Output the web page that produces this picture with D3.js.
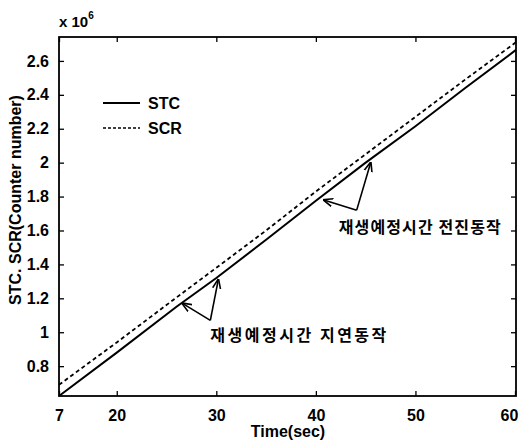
<!DOCTYPE html>
<html>
<head>
<meta charset="utf-8">
<script src="https://cdn.jsdelivr.net/npm/d3@7"></script>
<style>
  body { margin: 0; background: #fff; }
  text { font-family: "Liberation Sans", Arial, sans-serif; font-weight: bold; fill: #000; }
  .kr { font-family: "Noto Sans CJK KR", sans-serif; font-weight: bold; }
</style>
</head>
<body>
<div id="chart"></div>
<script>
// time (sec) and counter numbers (x 10^6)
var time = [14.2, 20, 26, 30, 35, 40, 45, 50, 55, 60.1];
var stc  = [0.624, 0.88, 1.15, 1.32, 1.545, 1.775, 2.0, 2.215, 2.44, 2.665];
var scr  = [0.69, 0.94, 1.205, 1.38, 1.60, 1.83, 2.05, 2.27, 2.49, 2.71];

var xTicks = [14.2, 20, 30, 40, 50, 60];
var xTickLabels = ["7", "20", "30", "40", "50", "60"];
var yTicks = [0.8, 1, 1.2, 1.4, 1.6, 1.8, 2, 2.2, 2.4, 2.6];
var yTickLabels = ["0.8", "1", "1.2", "1.4", "1.6", "1.8", "2", "2.2", "2.4", "2.6"];

var seriesNames = ["STC", "SCR"];

// annotations: text anchor, arrow vertex, two arrow tips (data coords)
var notes = [
    {text: "재생예정시간 지연동작", len: 176, tx: 29.4, ty: 0.98, vx: 29.4, vy: 1.07, tips: [[26.6, 1.17], [30.2, 1.31]]},
    {text: "재생예정시간 전진동작", len: 162, tx: 42.3, ty: 1.62, vx: 44.1, vy: 1.72, tips: [[40.8, 1.78], [45.5, 2.0]]}
];

var W = 522, H = 441;
var margin = {top: 37, right: 6, bottom: 45, left: 59};
var w = W - margin.left - margin.right,
    h = H - margin.top - margin.bottom;

var svg = d3.select("#chart").append("svg")
    .attr("width", W)
    .attr("height", H);

svg.append("defs").append("marker")
    .attr("id", "arrow")
    .attr("viewBox", "0 0 10 10")
    .attr("refX", 9).attr("refY", 5)
    .attr("markerWidth", 10).attr("markerHeight", 10)
    .attr("markerUnits", "userSpaceOnUse")
    .attr("orient", "auto")
    .append("path")
    .attr("d", "M0,1 L10,5 L0,9")
    .attr("fill", "none")
    .attr("stroke", "#000")
    .attr("stroke-width", 1.6);

var g = svg.append("g")
    .attr("transform", "translate(" + margin.left + "," + margin.top + ")");

var x = d3.scaleLinear().domain([14.2, 60.1]).range([0, w]);
var y = d3.scaleLinear().domain([0.624, 2.741]).range([h, 0]);

// axes with inward ticks on all four sides
function styleAxis(sel) {
    sel.select(".domain").remove();
    sel.selectAll("line").attr("stroke", "#000").attr("stroke-width", 1.3);
    sel.selectAll("text").style("font-size", "16px");
}
g.append("g")
    .attr("transform", "translate(0," + h + ")")
    .call(d3.axisBottom(x).tickValues(xTicks).tickFormat((d, i) => xTickLabels[i])
          .tickSizeInner(-5).tickSizeOuter(0).tickPadding(14))
    .call(styleAxis)
    .call(a => a.selectAll("text").filter(d => d == 60).attr("dx", -6));
g.append("g")
    .call(d3.axisTop(x).tickValues(xTicks).tickFormat("").tickSizeInner(-5).tickSizeOuter(0))
    .call(styleAxis);
g.append("g")
    .call(d3.axisLeft(y).tickValues(yTicks).tickFormat((d, i) => yTickLabels[i])
          .tickSizeInner(-5).tickSizeOuter(0).tickPadding(10))
    .call(styleAxis);
g.append("g")
    .attr("transform", "translate(" + w + ",0)")
    .call(d3.axisRight(y).tickValues(yTicks).tickFormat("").tickSizeInner(-5).tickSizeOuter(0))
    .call(styleAxis);

g.append("rect")
    .attr("width", w).attr("height", h)
    .attr("fill", "none")
    .attr("stroke", "#000")
    .attr("stroke-width", 1.8);

var line = d3.line()
    .x((d, i) => x(time[i]))
    .y(d => y(d));

g.append("path")
    .datum(stc)
    .attr("d", line)
    .attr("fill", "none")
    .attr("stroke", "#000")
    .attr("stroke-width", 2);

g.append("path")
    .datum(scr)
    .attr("d", line)
    .attr("fill", "none")
    .attr("stroke", "#000")
    .attr("stroke-width", 1.8)
    .attr("stroke-dasharray", "4,3");

// legend
var legend = g.append("g").attr("transform", "translate(44,66)");
seriesNames.forEach((name, i) => {
    legend.append("line")
        .attr("x1", 0).attr("x2", 37)
        .attr("y1", i * 25).attr("y2", i * 25)
        .attr("stroke", "#000")
        .attr("stroke-width", i == 0 ? 2 : 1.5)
        .attr("stroke-dasharray", i == 0 ? null : "3,2");
    legend.append("text")
        .attr("x", 45).attr("y", i * 25 + 6)
        .style("font-size", "16px")
        .text(name);
});

// annotations
notes.forEach(n => {
    n.tips.forEach(t => {
        g.append("line")
            .attr("x1", x(n.vx)).attr("y1", y(n.vy))
            .attr("x2", x(t[0])).attr("y2", y(t[1]))
            .attr("stroke", "#000")
            .attr("stroke-width", 1.6)
            .attr("marker-end", "url(#arrow)");
    });
    g.append("text")
        .attr("class", "kr")
        .attr("x", x(n.tx)).attr("y", y(n.ty))
        .attr("dy", "0.35em")
        .attr("textLength", n.len)
        .attr("lengthAdjust", "spacing")
        .style("font-size", "16px")
        .text(n.text);
});

// axis labels
svg.append("text")
    .attr("x", margin.left + x(37.2)).attr("y", 437)
    .attr("text-anchor", "middle")
    .style("font-size", "16px")
    .text("Time(sec)");

svg.append("text")
    .attr("transform", "translate(21,200) rotate(-90)")
    .attr("text-anchor", "middle")
    .style("font-size", "16px")
    .text("STC. SCR(Counter number)");

var mult = svg.append("text")
    .attr("x", 59).attr("y", 27)
    .style("font-size", "15px");
mult.append("tspan").text("x 10");
mult.append("tspan").attr("dy", -8).style("font-size", "10px").text("6");
</script>
</body>
</html>
